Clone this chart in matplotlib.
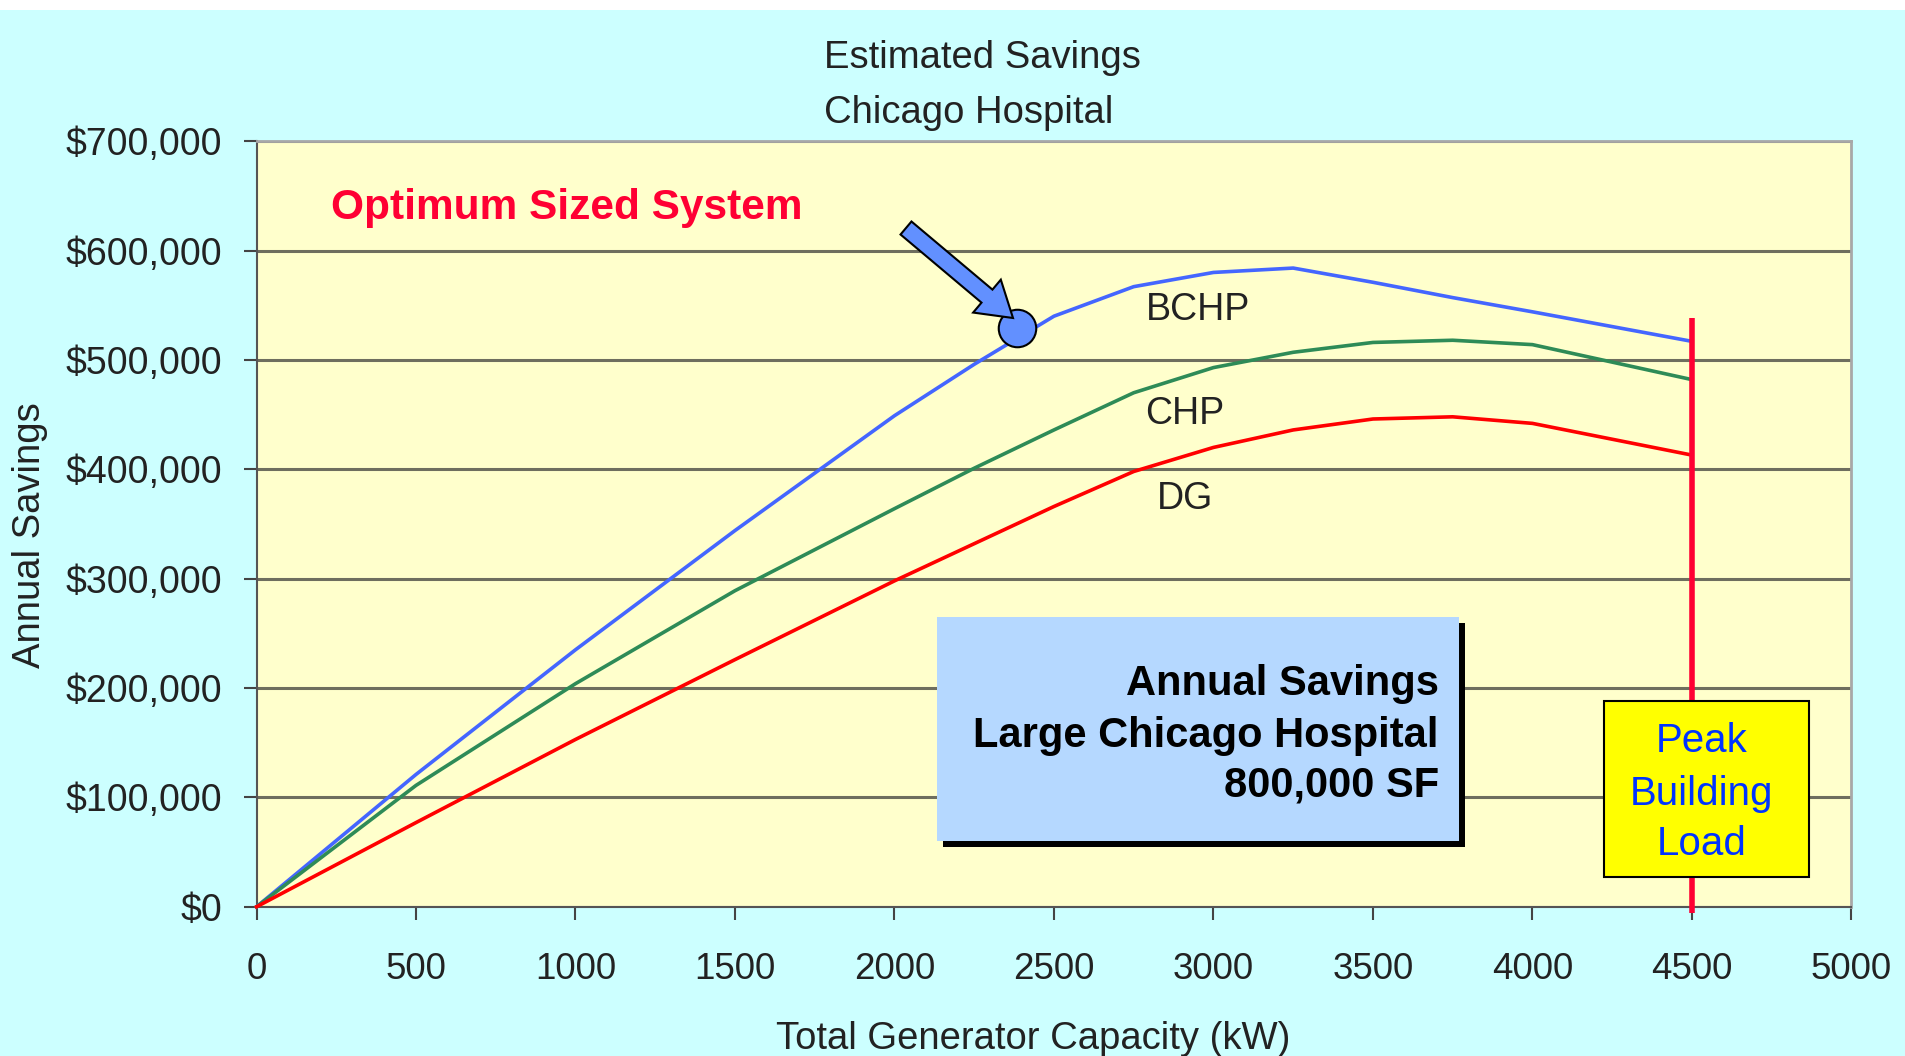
import matplotlib
matplotlib.use("Agg")
import matplotlib.pyplot as plt
from matplotlib.patches import Rectangle, FancyArrow
from matplotlib.transforms import IdentityTransform
from matplotlib.ticker import FuncFormatter

# données (kW -> $/an)
capacity = [0, 500, 1000, 1500, 2000, 2250, 2500, 2750, 3000, 3250, 3500, 3750, 4000, 4500]
bchp = [0, 121000, 235000, 344000, 449000, 496000, 540000, 567000, 580000, 584000, 571000, 557000, 544000, 517000]
chp = [0, 111000, 204000, 289000, 364000, 401000, 436000, 470000, 493000, 507000, 516000, 518000, 514000, 482000]
dg = [0, 77000, 153000, 226000, 298000, 332000, 366000, 398000, 420000, 436000, 446000, 448000, 442000, 413000]

x_ticks = list(range(0, 5001, 500))
y_ticks = list(range(0, 700001, 100000))

peak_load = 4500
peak_line_top = 538000
opt_kw = 2383
opt_savings = 529000

plt.rcParams['font.family'] = ['Liberation Sans', 'DejaVu Sans']

fig = plt.figure(figsize=(19.06, 10.56), dpi=100, facecolor='#CCFFFF')
# bande blanche en haut
fig.patches.append(Rectangle((0, 1 - 10/1056), 1, 10/1056, transform=fig.transFigure,
                             facecolor='white', edgecolor='none', zorder=0))

ax = fig.add_axes([0.13458, 0.14129, 0.83678, 0.725])
ax.set_facecolor('#FFFFCC')

ax.plot(capacity, bchp, color='#4466FF', lw=2.6, zorder=3, clip_on=False)
ax.plot(capacity, chp, color='#2E8B57', lw=2.6, zorder=3, clip_on=False)
ax.plot(capacity, dg, color='#FF0000', lw=2.6, zorder=3, clip_on=False)

ax.set_xlim(0, 5000)
ax.set_ylim(0, 700000)
ax.set_xticks(x_ticks)
ax.set_yticks(y_ticks)
ax.yaxis.set_major_formatter(FuncFormatter(lambda v, p: f"${v:,.0f}"))
ax.tick_params(axis='both', direction='out', length=9.5, width=1.5, colors='#444444',
               labelcolor='#222222', labelsize=27)
ax.tick_params(axis='y', pad=15)
ax.tick_params(axis='x', pad=23, labelsize=26.5)

ax.set_axisbelow(True)
ax.yaxis.grid(True, color='#6E6E5E', lw=2.2)
for s in ['top', 'right']:
    ax.spines[s].set_color('#A8A8A8')
    ax.spines[s].set_linewidth(2)
for s in ['left', 'bottom']:
    ax.spines[s].set_color('#555555')
    ax.spines[s].set_linewidth(1.5)

ax.set_xlabel("Total Generator Capacity (kW)", fontsize=27.5, color='#222222')
ax.xaxis.set_label_coords(0.487, -0.173)
ax.xaxis.label.set_va('center')
ax.set_ylabel("Annual Savings", fontsize=27.5, color='#222222')
ax.yaxis.set_label_coords(-0.142, 0.4856)
ax.yaxis.label.set_va('center')

fig.text(0.4323, 1 - 58/1056, "Estimated Savings", fontsize=27.5, color='#222222', va='center')
fig.text(0.4323, 1 - 113/1056, "Chicago Hospital", fontsize=27.5, color='#222222', va='center')

# étiquettes des courbes
ax.text(0.5903, 0.780, "BCHP", transform=ax.transAxes, fontsize=27, color='#222222', ha='center', va='center')
ax.text(0.5821, 0.644, "CHP", transform=ax.transAxes, fontsize=27, color='#222222', ha='center', va='center')
ax.text(0.5821, 0.532, "DG", transform=ax.transAxes, fontsize=27, color='#222222', ha='center', va='center')

ax.text(0.0467, 0.913, "Optimum Sized System", transform=ax.transAxes, fontsize=30.5,
        fontweight='bold', color='#FF0033', va='center')

# ligne de charge de pointe
ax.vlines(peak_load, -6000, peak_line_top, color='#FF0033', lw=4, zorder=4, clip_on=False)

# boîte "Peak Building Load"
ax.add_patch(Rectangle((0.845, 0.039), 0.1285, 0.2298, transform=ax.transAxes,
                       facecolor='#FFFF00', edgecolor='black', lw=1.5, zorder=5))
for txt, yy in zip(["Peak", "Building", "Load"], [0.2164, 0.147, 0.0816]):
    ax.text(0.9063, yy, txt, transform=ax.transAxes, fontsize=29, color='#0033FF',
            ha='center', va='center', zorder=6)

# boîte bleue avec ombre
ax.add_patch(Rectangle((0.4302, 0.0781), 0.3273, 0.2926, transform=ax.transAxes,
                       facecolor='black', edgecolor='none', zorder=5))
ax.add_patch(Rectangle((0.4267, 0.0859), 0.3273, 0.2926, transform=ax.transAxes,
                       facecolor='#B5D8FF', edgecolor='none', zorder=6))
for txt, yy in zip(["Annual Savings", "Large Chicago Hospital", "800,000 SF"], [0.2915, 0.2236, 0.1583]):
    ax.text(0.7414, yy, txt, transform=ax.transAxes, fontsize=30, fontweight='bold',
            color='black', ha='right', va='center', zorder=7)

# point optimal + flèche
ax.plot(opt_kw, opt_savings, 'o', ms=27, mfc='#6290FF', mec='black', mew=1.5, zorder=8)
tail = (906, 1056 - 228)
tip = (1013, 1056 - 318)
fig.patches.append(FancyArrow(tail[0], tail[1], tip[0] - tail[0], tip[1] - tail[1],
                              width=17, head_width=43, head_length=34,
                              length_includes_head=True, transform=IdentityTransform(),
                              facecolor='#6290FF', edgecolor='black', lw=1.5, zorder=10))

fig.savefig("out.png", dpi=100, facecolor=fig.get_facecolor())
